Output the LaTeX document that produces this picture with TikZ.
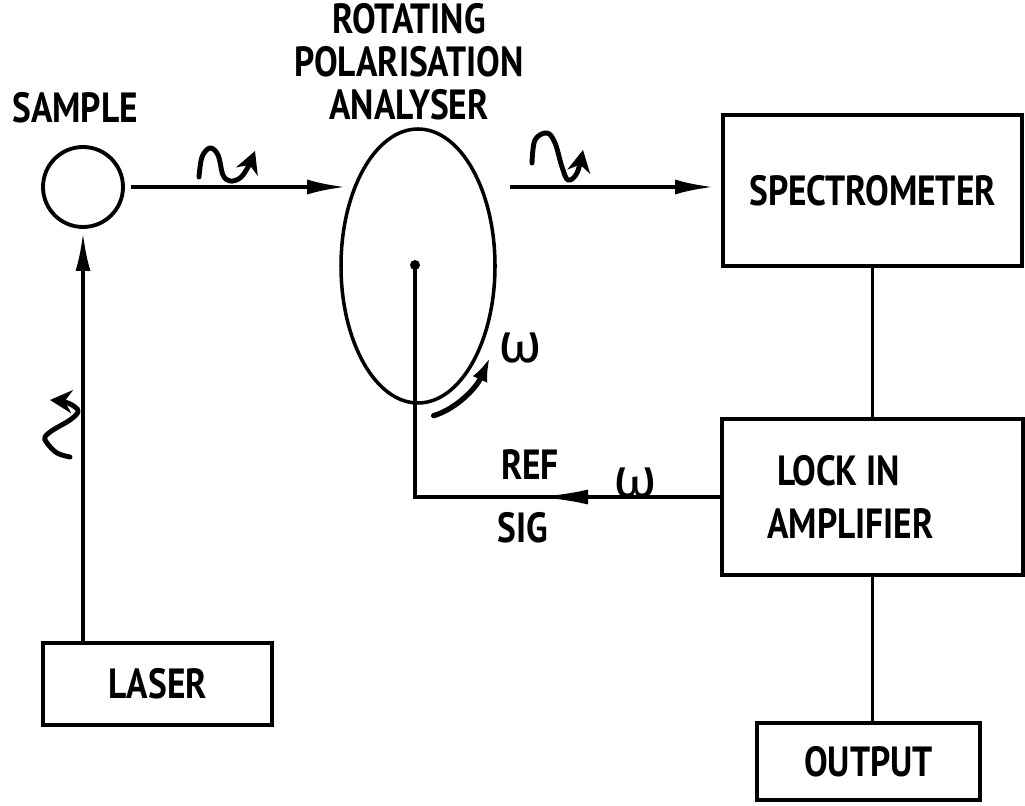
\documentclass[tikz,border=0pt]{standalone}
\usepackage{fontspec}
\setmainfont{PT Sans}[FakeStretch=0.84]
\newfontfamily\greekfont{Fira Sans}
\usetikzlibrary{positioning,calc,arrows.meta,decorations.markings,shapes.geometric}

\begin{document}
\begin{tikzpicture}[
  font=\fontsize{12}{15}\selectfont\bfseries,
  box/.style   = {draw, line width=1.1pt, align=center, inner sep=2pt},
  lbl/.style   = {inner sep=1pt, align=center},
  omega/.style = {inner sep=0pt, font=\greekfont\fontsize{16}{16}\selectfont},
  ray/.style   = {-{Latex[length=3.8mm, width=1.5mm]}, line width=1pt},
  link/.style  = {line width=1pt},
  pol/.style   = {-{Stealth[length=2.2mm, width=2.3mm]}, line width=1.4pt,
                  line cap=round, line join=round}
]
\useasboundingbox (0,0) rectangle (10.25,8.05);

% ----------------------------------------------------------- i componenti --
\node[circle, draw, line width=1.1pt, minimum size=8mm, inner sep=0pt]
                                          (sample) at (0.83,6.18) {};
\node[lbl]                                (samplelbl) at (0.75,6.97) {SAMPLE};

\node[ellipse, draw, line width=1pt, minimum width=15.4mm,
      minimum height=27.4mm, inner sep=0pt] (analyser) at (4.18,5.39) {};
\node[lbl, font=\fontsize{12}{12.2}\selectfont\bfseries]
                                          (analyserlbl) at (4.09,7.43) {ROTATING\\POLARISATION\\ANALYSER};

\node[box, minimum width=29.9mm, minimum height=15.1mm]
                                          (spectro) at (8.725,6.145) {SPECTROMETER};
\node[box, minimum width=30.1mm, minimum height=15.6mm]
                                          (lockin) at (8.725,3.08) {};
\node[lbl, align=left] (lockinlbl) at ([xshift=-2.2mm]lockin.center) {\hspace*{1mm}LOCK IN\\AMPLIFIER};
\node[box, minimum width=22.3mm, minimum height=7.7mm]
                                          (output) at (8.685,0.435) {OUTPUT};
\node[box, minimum width=22.9mm, minimum height=8.2mm]
                                          (laser) at (1.575,1.21) {LASER};

% il perno dell'analizzatore
\coordinate (pivot) at (4.15,5.40);
\fill (pivot) circle (0.5mm);

% ------------------------------------------------------------------ archi --
\draw[ray] (laser.north -| sample.south) -- ([yshift=-0.4mm]sample.south);
\draw[ray, shorten <=0.6mm] (sample.east) -- ([xshift=0.6mm]sample.east -| analyser.west);
\draw[ray] ([xshift=1.3mm]sample.east -| analyser.east) -- ([xshift=-0.8mm]sample.east -| spectro.west);

\draw[link] (spectro) -- (lockin);
\draw[link] (lockin.south) -- (lockin.south |- output.north);

% riferimento: dal lock-in al perno, freccia verso sinistra
\draw[link, postaction={decorate}, decoration={markings,
      mark=at position 1.82cm with {\arrow{Latex[length=5mm, width=1.5mm]}}}]
  (lockin.west) -| (pivot);
\node[lbl] (reflbl) at (5.30,3.40) {REF};
\node[lbl] (siglbl) at (5.23,2.77) {SIG};
\node[omega] (omref) at (6.35,3.22) {ω};

% rotazione dell'analizzatore
\draw[line width=1.5pt, line cap=round, -{Latex[length=2.4mm, width=1.6mm]}]
  ([shift={(-80:0.9 and 1.52)}]analyser.center)
  arc[start angle=-80, end angle=-37, x radius=0.9, y radius=1.52];
\node[omega] (omrot) at (5.20,4.57) {ω};

% ------------------------------------------------- le polarizzazioni --
\draw[pol] plot[smooth, tension=0.6] coordinates {(1.99,6.28) (2.02,6.48) (2.10,6.57)
  (2.18,6.50) (2.23,6.30) (2.30,6.24) (2.40,6.27) (2.48,6.38) (2.55,6.54)};
\draw[pol] plot[smooth, tension=0.6] coordinates {(5.32,6.42) (5.35,6.65) (5.47,6.72)
  (5.55,6.62) (5.62,6.38) (5.68,6.25) (5.77,6.32) (5.83,6.55)};
\draw[pol] plot[smooth, tension=0.6] coordinates {(0.70,3.48) (0.57,3.52) (0.47,3.62)
  (0.45,3.68) (0.53,3.75) (0.70,3.85) (0.78,3.93) (0.75,3.98) (0.65,4.03) (0.50,4.05)};

\end{tikzpicture}
\end{document}
